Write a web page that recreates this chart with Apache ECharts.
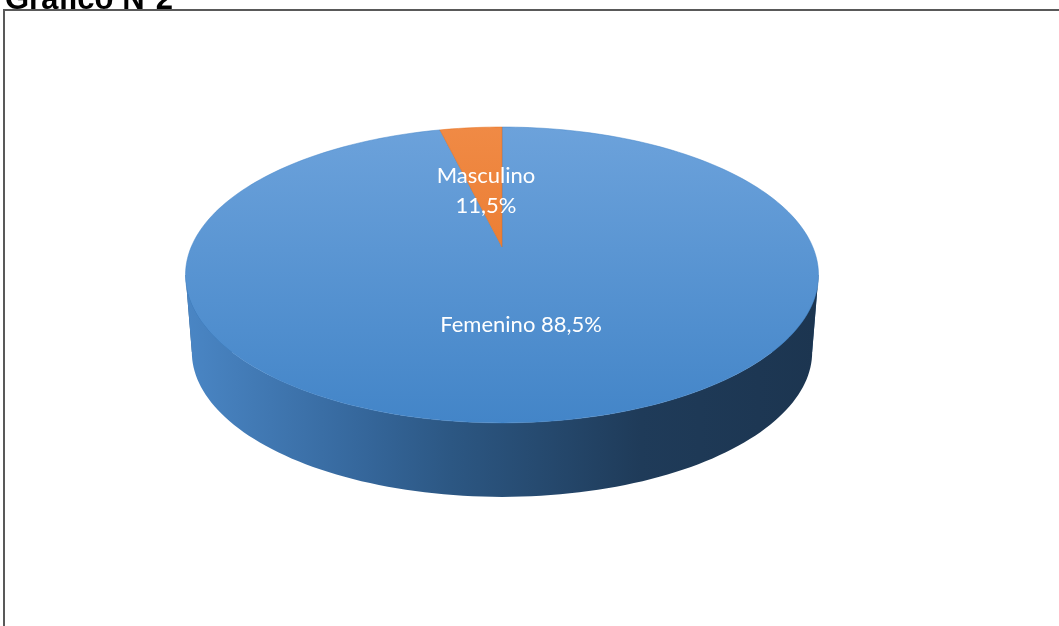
<!DOCTYPE html>
<html>
<head>
<meta charset="utf-8">
<title>Gráfico Nº2</title>
<script src="https://cdn.jsdelivr.net/npm/echarts@6/dist/echarts.min.js"></script>
<style>
	html, body { margin: 0; padding: 0; background: #fff; }
	#chart { width: 1059px; height: 626px; }
</style>
</head>
<body>
<div id="chart"></div>
<script>
// datos
var categories = ['Femenino', 'Masculino'];
// tamaño de cada sector tal como esta dibujado (la porcion naranja es pequeña)
var shares = [96.2, 3.8];
// porcentajes impresos en las etiquetas
var percentLabels = ['88,5%', '11,5%'];
var sliceColors = [
	['#6ca2db', '#4385c8'],
	['#f08a45', '#e56e1d']
];

function loadChart(){
	var chart = echarts.init(document.getElementById('chart'));

	// geometria de la torta 3D (vista en perspectiva)
	var cx = 502, cy = 247;
	var R = 310.8, tilt = 0.459, persp = 0.189;
	var depth = 77.5, bottomScale = 0.98;
	var total = shares.reduce(function(a, b){ return a + b; }, 0);

	function proj(angDeg, r, dy, k){
		var a = angDeg * Math.PI / 180;
		var v = r * Math.cos(a);
		var s = 1 / (1 + persp * v);
		return [cx + R * k * r * Math.sin(a) * s, cy + dy - R * tilt * k * v * s];
	}
	function arc(a0, a1, dy, k){
		var pts = [];
		var n = Math.max(2, Math.ceil((a1 - a0) / 1.5));
		for (var i = 0; i <= n; i++) {
			pts.push(proj(a0 + (a1 - a0) * i / n, 1, dy, k));
		}
		return pts;
	}

	// rango del borde lateral que se ve (entre los puntos mas anchos)
	var wallFrom = 90 + Math.asin(persp) * 180 / Math.PI;
	var wallTo = 360 - wallFrom;

	function renderItem(params, api){
		var idx = params.dataIndex;
		var start = 0;
		for (var i = 0; i < idx; i++) start += shares[i] / total * 360;
		var end = start + api.value(0) / total * 360;
		var children = [];

		var w0 = Math.max(start, wallFrom), w1 = Math.min(end, wallTo);
		if (w1 > w0) {
			var top = arc(w0, w1, 0, 1);
			var bot = arc(w0, w1, depth, bottomScale).reverse();
			children.push({
				type: 'polygon',
				z2: 1,
				shape: { points: top.concat(bot) },
				style: {
					fill: {
						type: 'linear', x: 185, y: 0, x2: 818, y2: 0, global: true,
						colorStops: [
							{ offset: 0, color: '#4a86c5' },
							{ offset: 0.27, color: '#36689d' },
							{ offset: 0.42, color: '#2c5783' },
							{ offset: 0.72, color: '#1f3b59' },
							{ offset: 1, color: '#1c3550' }
						]
					}
				}
			});
			// costado recto en los extremos
			children.push({
				type: 'polygon',
				z2: 0,
				shape: { points: [proj(w0, 1, 0, 1), proj(w1, 1, 0, 1), proj(w1, 1, depth, bottomScale), proj(w0, 1, depth, bottomScale)] },
				style: { fill: '#2c5783' }
			});
		}

		var face = [proj(0, 0, 0, 1)].concat(arc(start, end, 0, 1));
		children.push({
			type: 'polygon',
			z2: 2,
			shape: { points: face },
			style: {
				fill: {
					type: 'linear', x: 0, y: 127, x2: 0, y2: 423, global: true,
					colorStops: [
						{ offset: 0, color: sliceColors[idx][0] },
						{ offset: 1, color: sliceColors[idx][1] }
					]
				},
				stroke: sliceColors[idx][1],
				lineWidth: 0.5
			}
		});

		var mid = (start + end) / 2;
		var lp = proj(mid, 0.47, 0, 1);
		var small = api.value(0) / total < 0.1;
		children.push({
			type: 'text',
			z2: 3,
			x: lp[0],
			y: lp[1] + 5,
			style: {
				text: categories[idx] + (small ? '\n' : ' ') + percentLabels[idx],
				fill: '#ffffff',
				font: '22px Lato',
				lineHeight: 30,
				align: 'center',
				verticalAlign: 'middle'
			}
		});
		return { type: 'group', children: children };
	}

	var option = {
		animation: false,
		graphic: [
			{
				type: 'rect',
				shape: { x: 4, y: 10, width: 1200, height: 800 },
				style: { fill: 'none', stroke: '#595959', lineWidth: 2 }
			},
			{
				type: 'text',
				x: 5,
				y: 0,
				style: {
					text: 'Gráfico Nº2',
					font: 'bold 31px "Liberation Sans", Arial',
					fill: '#000000',
					verticalAlign: 'middle'
				}
			}
		],
		series: [
			{
				type: 'custom',
				coordinateSystem: 'none',
				renderItem: renderItem,
				data: shares.map(function(v, i){ return { name: categories[i], value: [v] }; })
			}
		]
	};
	chart.setOption(option);
}
loadChart();
</script>
</body>
</html>
